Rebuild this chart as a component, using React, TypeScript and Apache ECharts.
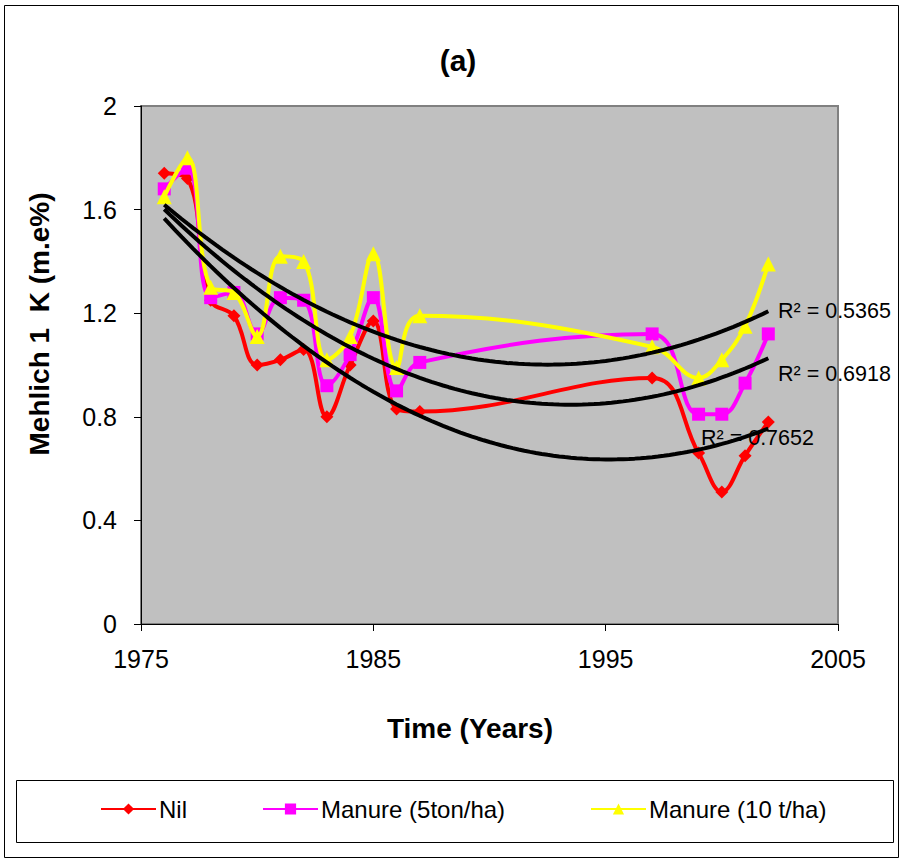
import React, { useEffect, useRef } from "react";
import * as echarts from "echarts";

const years = [1976, 1977, 1978, 1979, 1980, 1981, 1982, 1983, 1984, 1985, 1986, 1987, 1997, 1999, 2000, 2001, 2002];
const nil = [1.74, 1.72, 1.25, 1.19, 1.0, 1.02, 1.06, 0.8, 1.0, 1.17, 0.83, 0.82, 0.95, 0.66, 0.51, 0.65, 0.78];
const manure5 = [1.68, 1.76, 1.26, 1.28, 1.12, 1.26, 1.25, 0.92, 1.04, 1.26, 0.9, 1.01, 1.12, 0.81, 0.81, 0.93, 1.12];
const manure10 = [1.65, 1.8, 1.3, 1.28, 1.11, 1.42, 1.4, 1.02, 1.11, 1.43, 0.99, 1.19, 1.07, 0.95, 1.02, 1.15, 1.39];
const seriesNames = ["Nil", "Manure (5ton/ha)", "Manure (10 t/ha)"];
const r2Labels = ["R² = 0.7652", "R² = 0.6918", "R² = 0.5365"];
const xTicks = [1975, 1985, 1995, 2005];

function polyFit2(xs: number[], ys: number[]) {
  const n = xs.length;
  const xm = xs.reduce((a, b) => a + b, 0) / n;
  let s1 = 0, s2 = 0, s3 = 0, s4 = 0, t0 = 0, t1 = 0, t2 = 0;
  for (let i = 0; i < n; i++) {
    const x = xs[i] - xm;
    const y = ys[i];
    s1 += x; s2 += x * x; s3 += x * x * x; s4 += x * x * x * x;
    t0 += y; t1 += x * y; t2 += x * x * y;
  }
  const M = [
    [n, s1, s2, t0],
    [s1, s2, s3, t1],
    [s2, s3, s4, t2],
  ];
  for (let c = 0; c < 3; c++) {
    for (let r = c + 1; r < 3; r++) {
      const f = M[r][c] / M[c][c];
      for (let k = c; k < 4; k++) M[r][k] -= f * M[c][k];
    }
  }
  const coef = [0, 0, 0];
  for (let r = 2; r >= 0; r--) {
    let s = M[r][3];
    for (let k = r + 1; k < 3; k++) s -= M[r][k] * coef[k];
    coef[r] = s / M[r][r];
  }
  return (x: number) => coef[0] + coef[1] * (x - xm) + coef[2] * (x - xm) * (x - xm);
}

function trendPoints(ys: number[]) {
  const f = polyFit2(years, ys);
  const pts: number[][] = [];
  const x0 = years[0];
  const x1 = years[years.length - 1];
  const steps = 104;
  for (let i = 0; i <= steps; i++) {
    const x = x0 + ((x1 - x0) * i) / steps;
    pts.push([x, f(x)]);
  }
  return pts;
}

const FONT = "'Liberation Sans', Arial, sans-serif";

export default function App() {
  const ref = useRef<HTMLDivElement>(null);
  useEffect(() => {
    document.body.style.margin = "0";
    const chart = echarts.init(ref.current!, null, { renderer: "svg" });
    const colors = ["#FF0000", "#FF00FF", "#FFFF00"];
    const symbols = ["diamond", "rect", "triangle"];
    const symbolSizes = [13, 13, 15];
    const all = [nil, manure5, manure10];
    const dataSeries = all.map((vals, i) => ({
      name: seriesNames[i],
      type: "line",
      smooth: 0.4,
      data: years.map((y, j) => [y, vals[j]]),
      symbol: symbols[i],
      symbolSize: symbolSizes[i],
      showAllSymbol: true,
      lineStyle: { color: colors[i], width: 4 },
      itemStyle: { color: colors[i] },
      z: 2 + i,
    }));
    const trendSeries = all.map((vals, i) => ({
      name: "trend" + i,
      type: "line",
      smooth: false,
      showSymbol: false,
      symbol: "none",
      data: trendPoints(vals),
      lineStyle: { color: "#000000", width: 4 },
      z: 10,
      silent: true,
    }));
    const legendPos = [100, 262, 590];
    chart.setOption({
      animation: false,
      backgroundColor: "#ffffff",
      grid: {
        left: 141,
        top: 106,
        width: 697,
        height: 518,
        show: true,
        backgroundColor: "#C0C0C0",
        borderColor: "#808080",
        borderWidth: 2,
      },
      xAxis: {
        type: "value",
        min: 1975,
        max: 2005,
        axisLine: { show: true, onZero: false, lineStyle: { color: "#000", width: 1 } },
        axisTick: { show: true, customValues: xTicks, length: 7, lineStyle: { color: "#000" } },
        axisLabel: {
          customValues: xTicks,
          formatter: (v: number) => String(v),
          color: "#000",
          fontSize: 25,
          fontFamily: FONT,
          margin: 22,
        },
        splitLine: { show: false },
      },
      yAxis: {
        type: "value",
        min: 0,
        max: 2,
        interval: 0.4,
        axisLine: { show: true, lineStyle: { color: "#000", width: 1 } },
        axisTick: { show: true, length: 7, lineStyle: { color: "#000" } },
        axisLabel: { color: "#000", fontSize: 25, fontFamily: FONT, margin: 24 },
        splitLine: { show: false },
      },
      legend: seriesNames.map((n, i) => ({
        data: [n],
        left: legendPos[i],
        top: 797,
        itemWidth: 55,
        itemHeight: 14,
        itemGap: 0,
        textStyle: { color: "#000", fontSize: 24, fontFamily: FONT, padding: [0, 0, 0, -2] },
        selectedMode: false,
        padding: 0,
      })),
      graphic: [
        {
          type: "rect",
          shape: { x: 4.5, y: 5.5, width: 894, height: 852 },
          style: { fill: "none", stroke: "#000", lineWidth: 1 },
          z: -1,
        },
        {
          type: "rect",
          shape: { x: 16.5, y: 780.5, width: 877, height: 62 },
          style: { fill: "none", stroke: "#000", lineWidth: 1 },
        },
        {
          type: "text",
          x: 458,
          y: 60,
          style: { text: "(a)", font: `bold 30px ${FONT}`, fill: "#000", align: "center", verticalAlign: "middle" },
        },
        {
          type: "text",
          x: 470,
          y: 728,
          style: { text: "Time (Years)", font: `bold 28px ${FONT}`, fill: "#000", align: "center", verticalAlign: "middle" },
        },
        {
          type: "text",
          x: 39,
          y: 324,
          rotation: Math.PI / 2,
          style: { text: "Mehlich 1  K (m.e%)", font: `bold 28px ${FONT}`, fill: "#000", align: "center", verticalAlign: "middle" },
        },
        {
          type: "text",
          x: 778,
          y: 311,
          style: { text: r2Labels[2], font: `21.5px ${FONT}`, fill: "#000", align: "left", verticalAlign: "middle" },
          z: 20,
        },
        {
          type: "text",
          x: 778,
          y: 374,
          style: { text: r2Labels[1], font: `21.5px ${FONT}`, fill: "#000", align: "left", verticalAlign: "middle" },
          z: 20,
        },
        {
          type: "text",
          x: 701,
          y: 438,
          style: { text: r2Labels[0], font: `21.5px ${FONT}`, fill: "#000", align: "left", verticalAlign: "middle" },
          z: 20,
        },
      ],
      series: [...dataSeries, ...trendSeries],
    });
    return () => chart.dispose();
  }, []);
  return <div ref={ref} style={{ width: 902, height: 859 }} />;
}
